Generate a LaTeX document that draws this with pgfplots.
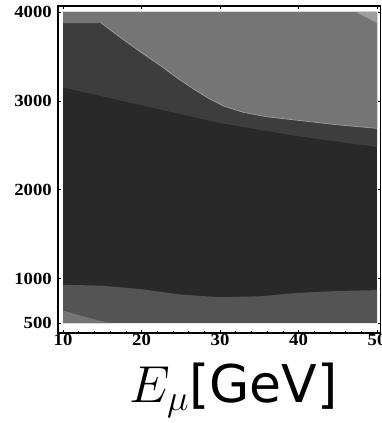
\RequirePackage{fix-cm}
\documentclass[border=0pt]{standalone}
\usepackage{fontspec}
\usepackage{pgfplots}
\pgfplotsset{compat=1.18}
\newfontfamily\tickfont[FakeStretch=1.1]{Liberation Serif}
\newfontfamily\labelsans{DejaVu Sans}

% grey levels of the shaded regions
\definecolor{zoneA}{gray}{0.16}  % central region
\definecolor{zoneB}{gray}{0.24}  % band below the boundary curve
\definecolor{zoneC}{gray}{0.46}  % upper right region
\definecolor{zoneD}{gray}{0.33}  % low-mass band
\definecolor{zoneE}{gray}{0.62}  % corner regions
\definecolor{edge}{gray}{0.62}

\begin{document}
\begin{tikzpicture}
\path[use as bounding box] (0,0) rectangle (381pt,423pt);
\begin{axis}[
  at={(58pt,90pt)}, anchor=south west,
  scale only axis, width=322.6pt, height=327pt,
  xmin=9.36, xmax=50.45, ymin=387.5, ymax=4067,
  axis on top,
  axis line style={line width=1.2pt},
  xtick={10,20,30,40,50}, xticklabels={10,20,30,40,50},
  ytick={500,1000,2000,3000,4000}, yticklabels={500,1000,2000,3000,4000},
  minor x tick num=4, minor y tick num=4,
  tick align=inside, major tick length=3pt, minor tick length=1.5pt,
  tick style={black, line width=0.6pt},
  ticklabel style={font=\tickfont\fontsize{17}{17}\selectfont\bfseries},
  xticklabel style={inner sep=0pt, anchor=north, yshift=-1pt},
  yticklabel style={inner sep=0pt, anchor=east, xshift=-6pt},
]
% central region
\addplot[fill=zoneA, draw=none] coordinates {(10,500) (50,500) (50,4000) (10,4000)} -- cycle;
% band below the upper boundary
\addplot[fill=zoneB, draw=none] coordinates {
  (10,3150) (20,2950) (30,2750) (40,2600) (50,2480) (50,4000) (10,4000)} -- cycle;
% upper right region
\addplot[fill=zoneC, draw=none] coordinates {
  (10,4000) (10,3873) (14.9,3873) (17.5,3700) (20.2,3530) (22.5,3390)
  (24.5,3260) (26.5,3140) (28.5,3030) (30.5,2940) (33,2870) (36,2820)
  (40,2780) (45,2730) (50,2690) (50,4000)} -- cycle;
\addplot[edge, line width=0.7pt] coordinates {
  (14.9,3873) (17.5,3700) (20.2,3530) (22.5,3390)
  (24.5,3260) (26.5,3140) (28.5,3030) (30.5,2940) (33,2870) (36,2820)
  (40,2780) (45,2730) (50,2690)};
% top right corner
\addplot[fill=zoneE, draw=none] coordinates {(47.4,4000) (50,4000) (50,3880)} -- cycle;
\addplot[edge, line width=0.7pt] coordinates {(47.4,4000) (50,3880)};
% low-mass band
\addplot[fill=zoneD, draw=none] coordinates {
  (10,500) (10,930) (15,920) (20,880) (25,820) (30,790) (35,800)
  (40,840) (45,860) (50,870) (50,500)} -- cycle;
% lower left corner
\addplot[fill=zoneC, draw=none] coordinates {
  (10,500) (10,640) (12,590) (14,540) (16,500)} -- cycle;
\end{axis}
\node[anchor=base] at (233.5pt,20pt)
  {\fontsize{52}{52}\selectfont$E_\mu$\labelsans[GeV]};
\end{tikzpicture}
\end{document}
